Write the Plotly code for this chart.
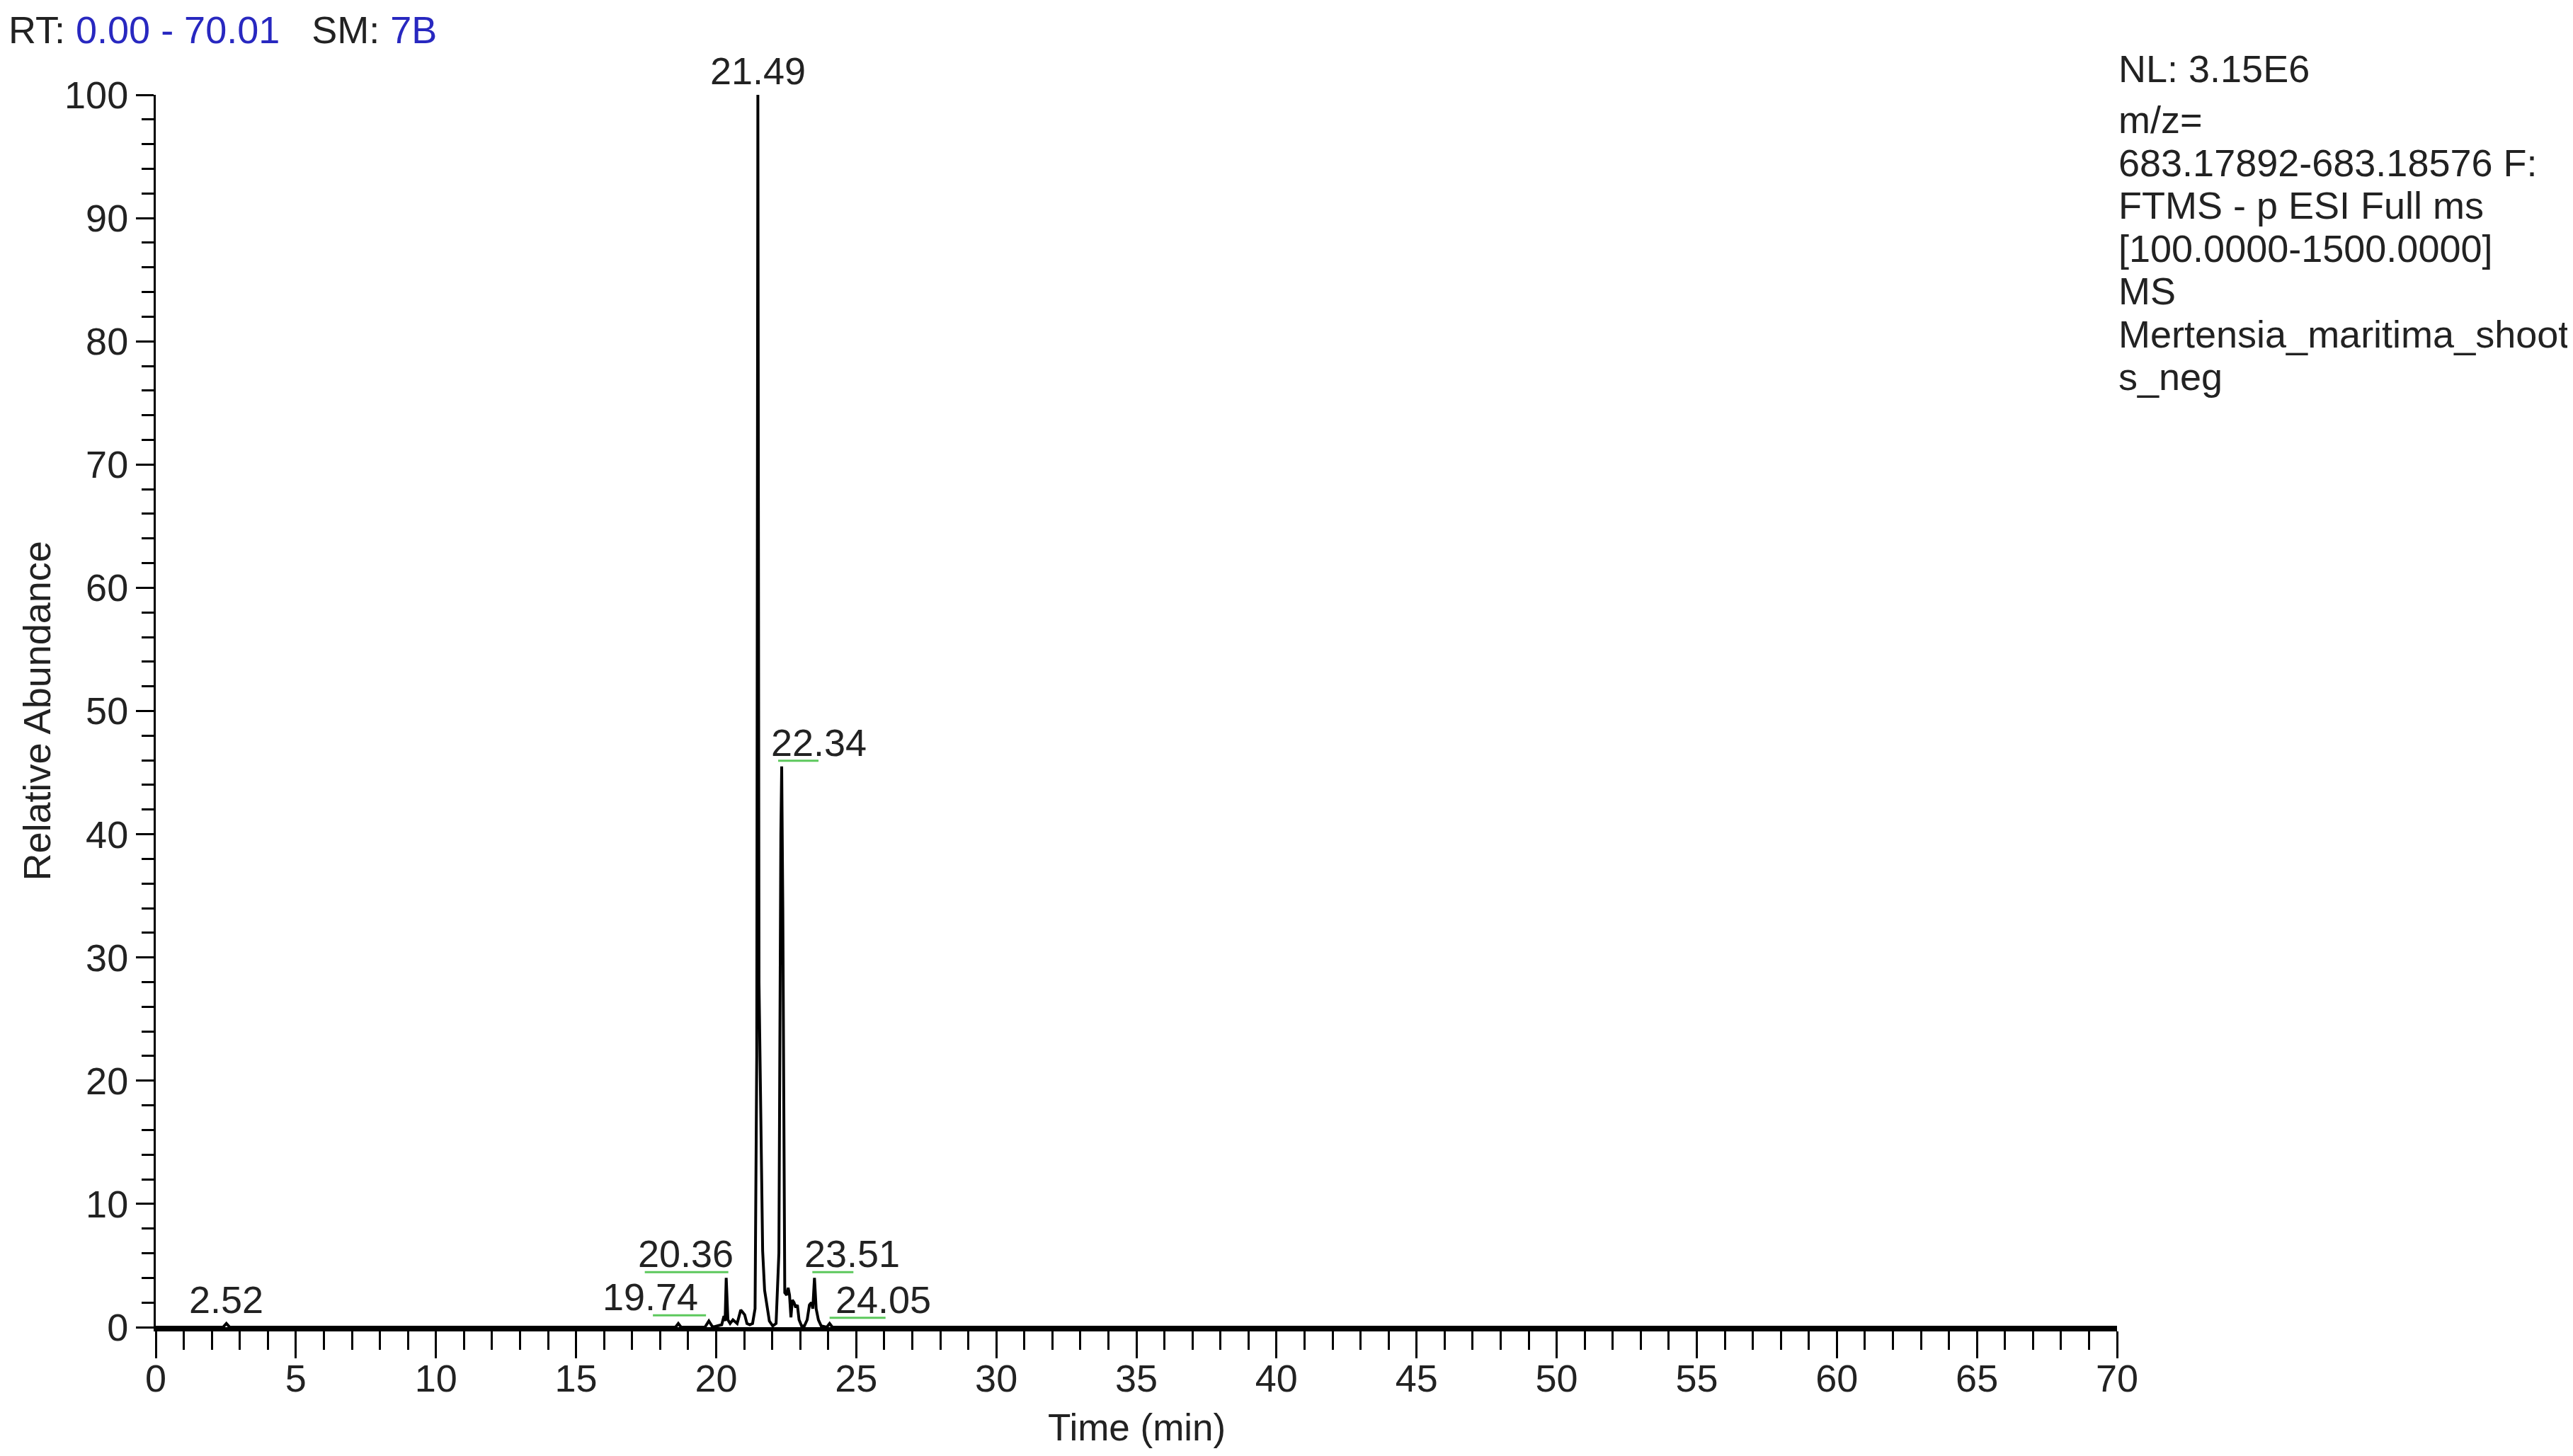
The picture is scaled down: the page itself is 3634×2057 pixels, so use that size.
import numpy as np
import plotly.graph_objects as go

# chromatogram, m/z 683.17892-683.18576, relative abundance (%)
rt = [0.00, 2.40, 2.52, 2.64, 10.00, 17.50, 18.55, 18.65, 18.75,
      19.60, 19.74, 19.88, 20.20, 20.28, 20.32, 20.36, 20.42, 20.50,
      20.60, 20.75, 20.82, 20.88, 20.95, 21.02, 21.10, 21.20, 21.30,
      21.39, 21.45, 21.49, 21.53, 21.62, 21.66, 21.73, 21.85, 21.90,
      22.02, 22.14, 22.24, 22.29, 22.31, 22.34, 22.38, 22.45, 22.52,
      22.57, 22.62, 22.67, 22.72, 22.78, 22.84, 22.90, 22.96, 23.05,
      23.15, 23.25, 23.33, 23.40, 23.45, 23.51, 23.57, 23.65, 23.75,
      23.95, 24.05, 24.15, 30.00, 70.00]
abundance = [0.0, 0.0, 0.3, 0.0, 0.0, 0.0, 0.0, 0.3, 0.0,
             0.0, 0.5, 0.0, 0.2, 0.9, 0.5, 4.0, 0.6, 0.3,
             0.6, 0.3, 1.0, 1.4, 1.2, 1.0, 0.3, 0.2, 0.3,
             1.5, 22.0, 100.0, 28.0, 10.0, 6.2, 3.0, 1.0, 0.5,
             0.1, 0.3, 6.0, 36.0, 40.0, 45.5, 34.0, 2.8, 2.6,
             3.2, 2.6, 0.8, 2.2, 2.0, 1.6, 1.8, 0.6, 0.1,
             0.1, 0.6, 1.8, 2.0, 1.5, 4.0, 1.5, 0.6, 0.1,
             0.0, 0.3, 0.0, 0.0, 0.0]

peak_rt = [2.52, 19.74, 20.36, 21.49, 22.34, 23.51, 24.05]
peak_text = ["2.52", "19.74", "20.36", "21.49", "22.34", "23.51", "24.05"]

info_lines = ["m/z=", "683.17892-683.18576 F:", "FTMS - p ESI Full ms",
              "[100.0000-1500.0000]", "MS", "Mertensia_maritima_shoot",
              "s_neg"]

FONT = "Liberation Sans, Arial, sans-serif"
BLUE = "#2828c0"
TXT = "#222222"
FS = 54
W, H = 3634, 2057
OFF = 8  # page margin around the plot div
# plot area wanted at x 220..2990, y 134..1875 on the page
L, T = 220 - OFF, 134 - OFF
R, B = W + OFF - 2990, H + OFF - 1875

fig = go.Figure()
fig.add_trace(go.Scatter(x=rt, y=abundance, mode="lines",
                         line=dict(color="black", width=4),
                         showlegend=False, hoverinfo="x+y"))

# label offsets (px) and green marker extents (px), per peak
label_dx = {"2.52": 0, "19.74": -83, "20.36": -57, "21.49": 0,
            "22.34": 52, "23.51": 53, "24.05": 76}
green = {"19.74": (-79, -4), "20.36": (-115, 3), "22.34": (-5, 52),
         "23.51": (-3, 55), "24.05": (0, 79)}

heights = dict(zip(rt, abundance))
for x, txt in zip(peak_rt, peak_text):
    h = heights[x]
    fig.add_annotation(x=x, y=h, text=txt, showarrow=False,
                       xanchor="center", yanchor="middle",
                       xshift=label_dx[txt], yshift=34,
                       font=dict(family=FONT, size=FS, color=TXT))
    if txt in green:
        x0, x1 = green[txt]
        fig.add_shape(type="line", xref="x", yref="y",
                      xsizemode="pixel", ysizemode="pixel",
                      xanchor=x, yanchor=h, x0=x0, x1=x1, y0=8, y1=8,
                      line=dict(color="#5cc85c", width=3))

pw, ph = W - L - R, H - T - B


def px_x(p):
    return (p - OFF - L) / pw


def px_y(p):
    return (H - B + OFF - p) / ph


# header
sp = "\u00a0"
fig.add_annotation(xref="paper", yref="paper", x=px_x(10), y=px_y(42),
                   xanchor="left", yanchor="middle", showarrow=False,
                   text=f"RT:{sp}<span style='color:{BLUE}'>0.00{sp}-{sp}70.01</span>"
                        f"{sp*3}SM:{sp}<span style='color:{BLUE}'>7B</span>",
                   font=dict(family=FONT, size=FS, color=TXT))

fig.add_annotation(xref="paper", yref="paper", x=px_x(2990), y=px_y(97),
                   xanchor="left", yanchor="middle", showarrow=False,
                   text="NL: 3.15E6",
                   font=dict(family=FONT, size=FS, color=TXT))
for i, line in enumerate(info_lines):
    fig.add_annotation(xref="paper", yref="paper", x=px_x(2990),
                       y=px_y(169 + 60.5 * i), xanchor="left",
                       yanchor="middle", showarrow=False, text=line,
                       font=dict(family=FONT, size=FS, color=TXT))

# axis titles
fig.add_annotation(xref="paper", yref="paper", x=px_x(51), y=0.5,
                   textangle=-90, showarrow=False, text="Relative Abundance",
                   xanchor="center", yanchor="middle",
                   font=dict(family=FONT, size=FS, color=TXT))
fig.add_annotation(xref="paper", yref="paper", x=0.5, y=px_y(2016),
                   showarrow=False, text="Time (min)",
                   xanchor="center", yanchor="middle",
                   font=dict(family=FONT, size=53, color=TXT))

fig.update_xaxes(range=[0, 70], dtick=5, tick0=0, showgrid=False,
                 zeroline=False, showline=True, linecolor="black",
                 linewidth=6, ticks="outside", ticklen=38, tickwidth=3,
                 tickcolor="black", ticklabelstandoff=-18,
                 tickfont=dict(family=FONT, size=FS, color=TXT),
                 minor=dict(dtick=1, tick0=0, ticks="outside", ticklen=26,
                            tickwidth=3, tickcolor="black", showgrid=False))
fig.update_yaxes(range=[0, 100], dtick=10, tick0=0, showgrid=False,
                 zeroline=False, showline=True, linecolor="black",
                 linewidth=3, ticks="outside", ticklen=25, tickwidth=3,
                 tickcolor="black",
                 tickfont=dict(family=FONT, size=FS, color=TXT),
                 minor=dict(dtick=2, tick0=0, ticks="outside", ticklen=17,
                            tickwidth=3, tickcolor="black", showgrid=False))

fig.update_layout(width=W, height=H, autosize=False,
                  margin=dict(l=L, r=R, t=T, b=B, autoexpand=False),
                  plot_bgcolor="white", paper_bgcolor="white",
                  font=dict(family=FONT, size=FS, color=TXT))

fig.write_html("out.html")
